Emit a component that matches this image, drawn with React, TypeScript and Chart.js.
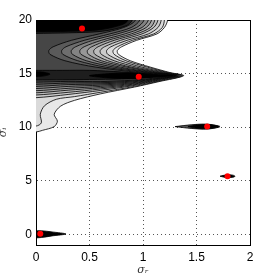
import React, { useEffect, useRef } from 'react';
import { Chart, registerables } from 'chart.js';

Chart.register(...registerables);

// Axis ticks
const xTicks = [0, 0.5, 1, 1.5, 2];
const yTicks = [0, 5, 10, 15, 20];

// Red markers (sigma_r, sigma_i)
const peakSigmaR = [0.43, 0.96, 1.6, 1.79, 0.04];
const peakSigmaI = [19.2, 14.7, 10.05, 5.42, 0.05];

// Contour levels (outer -> inner), each a closed outline of [sigma_r, sigma_i]
const level0 = [[-0.3,21.5],[1.23,21.5],[1.23,20],[1.2,19.3],[1.13,18.7],[0.94,18.1],[0.8,17.5],[0.76,17.15],[0.77,16.8],[0.88,16.2],[1.07,15.6],[1.25,15.1],[1.38,14.8],[1.15,14.25],[0.92,13.74],[0.6,13.1],[0.36,12.5],[0.23,11.96],[0.17,11.2],[0.2,10.56],[0.17,10.05],[0.06,9.7],[0,9.55],[-0.3,9.5],[-0.3,21.5]];
const level1 = [[-0.3,21.5],[1.2,21.5],[1.2,20],[1.18,19.3],[1.1,18.7],[0.9,18.1],[0.76,17.5],[0.72,17.15],[0.73,16.8],[0.84,16.2],[1.04,15.6],[1.23,15.1],[1.37,14.8],[1.15,14.3],[0.92,13.8],[0.6,13.25],[0.36,12.85],[0.19,12.6],[0.08,12.0],[0.04,11.2],[0.05,10.4],[0,10.1],[-0.3,10.05],[-0.3,21.5]];
const level2 = [[-0.3,21.5],[1.17,21.5],[1.17,20],[1.14,19.3],[1.05,18.7],[0.85,18.1],[0.7,17.5],[0.66,17.15],[0.67,16.8],[0.79,16.2],[0.99,15.6],[1.21,15.1],[1.36,14.8],[1.15,14.35],[0.9,13.86],[0.6,13.42],[0.3,13.05],[0,12.75],[-0.3,12.75],[-0.3,21.5]];
const level3 = [[-0.3,21.5],[1.14,21.5],[1.14,20],[1.1,19.3],[0.99,18.7],[0.79,18.1],[0.64,17.5],[0.6,17.15],[0.61,16.8],[0.73,16.2],[0.94,15.6],[1.18,15.1],[1.35,14.8],[1.15,14.4],[0.9,13.93],[0.6,13.56],[0.3,13.25],[0,13.0],[-0.3,13.0],[-0.3,21.5]];
const level4 = [[-0.3,21.5],[1.11,21.5],[1.11,20],[1.07,19.3],[0.94,18.7],[0.73,18.1],[0.58,17.5],[0.54,17.15],[0.55,16.8],[0.67,16.2],[0.89,15.6],[1.15,15.1],[1.34,14.8],[1.15,14.44],[0.9,14.0],[0.6,13.68],[0.3,13.45],[0,13.2],[-0.3,13.2],[-0.3,21.5]];
const level5 = [[-0.3,21.5],[1.08,21.5],[1.08,20],[1.03,19.3],[0.89,18.7],[0.67,18.1],[0.52,17.5],[0.48,17.15],[0.49,16.8],[0.61,16.2],[0.85,15.6],[1.12,15.1],[1.33,14.8],[1.15,14.48],[0.9,14.07],[0.6,13.8],[0.3,13.62],[0,13.4],[-0.3,13.4],[-0.3,21.5]];
const level6 = [[-0.3,21.5],[1.05,21.5],[1.05,20],[0.99,19.3],[0.83,18.7],[0.61,18.1],[0.45,17.5],[0.41,17.15],[0.42,16.8],[0.55,16.2],[0.79,15.6],[1.09,15.1],[1.32,14.8],[1.15,14.52],[0.9,14.14],[0.6,13.92],[0.3,13.8],[0,13.6],[-0.3,13.6],[-0.3,21.5]];
const level7 = [[-0.3,21.5],[1.01,21.5],[1.01,20],[0.94,19.3],[0.76,18.7],[0.53,18.1],[0.37,17.5],[0.33,17.15],[0.34,16.8],[0.47,16.2],[0.73,15.6],[1.06,15.1],[1.31,14.8],[1.15,14.56],[0.9,14.22],[0.6,14.03],[0.3,13.97],[0,13.8],[-0.3,13.8],[-0.3,21.5]];
const level8 = [[-0.3,21.5],[0.97,21.5],[0.97,20],[0.89,19.3],[0.69,18.7],[0.45,18.1],[0.28,17.5],[0.24,17.15],[0.25,16.8],[0.39,16.2],[0.65,15.6],[1.02,15.1],[1.3,14.8],[1.15,14.59],[0.9,14.3],[0.6,14.14],[0.3,14.12],[0,14.0],[-0.3,14.0],[-0.3,21.5]];
const level9 = [[-0.3,21.5],[0.93,21.5],[0.93,20],[0.82,19.3],[0.59,18.7],[0.33,18.1],[0.16,17.5],[0.12,17.15],[0.13,16.8],[0.27,16.2],[0.56,15.6],[0.96,15.1],[1.29,14.8],[1.15,14.62],[0.9,14.38],[0.6,14.25],[0.3,14.27],[0,14.2],[-0.3,14.2],[-0.3,21.5]];
// Inner islands
const topBandOuter = [[-0.3,21.5],[0.9,21.5],[0.9,20],[0.84,19.45],[0.62,18.95],[0.3,18.8],[0,18.75],[-0.3,18.75],[-0.3,21.5]];
const topBandInner = [[-0.3,21.5],[0.86,21.5],[0.86,20],[0.8,19.55],[0.6,19.1],[0.3,18.95],[0,18.9],[-0.3,18.9],[-0.3,21.5]];
const midLobeOuter = [[1.28,14.8],[1.1,14.93],[0.8,15.15],[0.5,15.3],[0.25,15.3],[0,15.3],[-0.3,15.3],[-0.3,14.4],[0,14.4],[0.25,14.42],[0.5,14.45],[0.8,14.5],[1.1,14.66],[1.28,14.8]];
const midLobeInner = [[1.27,14.8],[1.1,14.9],[0.9,15.05],[0.7,15.0],[0.5,14.8],[0.7,14.58],[0.9,14.53],[1.1,14.68],[1.27,14.8]];
const leftBlob = [[-0.3,15.15],[0.05,15.15],[0.13,14.95],[0.05,14.75],[-0.3,14.75],[-0.3,15.15]];
const blob10Outer = [[1.3,10.05],[1.45,10.22],[1.6,10.28],[1.72,10.05],[1.6,9.82],[1.45,9.88],[1.3,10.05]];
const blob10Inner = [[1.42,10.05],[1.5,10.2],[1.62,10.24],[1.71,10.05],[1.62,9.86],[1.5,9.9],[1.42,10.05]];
const blob5 = [[1.72,5.42],[1.78,5.55],[1.84,5.52],[1.86,5.42],[1.84,5.32],[1.78,5.29],[1.72,5.42]];
const blob0 = [[-0.1,0.33],[0.05,0.33],[0.15,0.22],[0.28,0.03],[0.15,-0.15],[0.05,-0.3],[-0.1,-0.3],[-0.1,0.33]];

const contours = [level0, level1, level2, level3, level4, level5, level6, level7, level8, level9,
  topBandOuter, topBandInner, midLobeOuter, midLobeInner, leftBlob, blob10Outer, blob10Inner, blob5, blob0];
const contourFills = ['#e8e8e8', '#dadada', '#cbcbcb', '#bcbcbc', '#aaaaaa', '#979797', '#838383', '#6e6e6e', '#5a5a5a', '#464646',
  '#1e1e1e', '#000000', '#1e1e1e', '#000000', '#000000', '#555555', '#000000', '#000000', '#000000'];

export default function App() {
  const ref = useRef<HTMLCanvasElement>(null);
  useEffect(() => {
    if (!ref.current) return;
    const tickFont = { family: 'Liberation Sans', size: 12 };
    const titleFont = { family: 'DejaVu Serif', size: 11, style: 'italic' as const };
    const datasets: any[] = contours.map((c, i) => ({
      data: c.map(([x, y]) => ({ x, y })),
      showLine: true,
      fill: 'shape',
      backgroundColor: contourFills[i],
      borderColor: '#000000',
      borderWidth: 0.8,
      pointRadius: 0,
      tension: 0.3,
      order: 100 - i,
      clip: 0,
    }));
    datasets.push({
      data: peakSigmaR.map((x, i) => ({ x, y: peakSigmaI[i] })),
      showLine: false,
      pointRadius: 3,
      pointBackgroundColor: '#ff0000',
      pointBorderWidth: 0,
      backgroundColor: '#ff0000',
      borderColor: '#ff0000',
      order: -10,
    });
    const chart = new Chart(ref.current, {
      type: 'scatter',
      data: { datasets },
      options: {
        responsive: false,
        animation: false,
        layout: { padding: { left: 0, right: 27, top: 20, bottom: 0 } },
        elements: { line: { capBezierPoints: false } },
        plugins: { legend: { display: false }, tooltip: { enabled: false } },
        scales: {
          x: {
            type: 'linear', position: 'bottom', min: 0, max: 2,
            afterBuildTicks: (s: any) => { s.ticks = xTicks.map((v) => ({ value: v })); },
            afterFit: (s: any) => { s.height = 32; },
            ticks: { font: tickFont, color: '#000', padding: 5, maxRotation: 0, autoSkip: false, callback: (v: any) => String(v) },
            grid: { color: '#555', lineWidth: 1, drawTicks: false },
            border: { display: true, color: '#000', width: 1, dash: [1, 3] },
            title: { display: true, text: 'σᵣ', font: titleFont, color: '#333', padding: { top: 0, bottom: 0 } },
          },
          y: {
            type: 'linear', position: 'left', min: -1, max: 20,
            afterBuildTicks: (s: any) => { s.ticks = yTicks.map((v) => ({ value: v })); },
            afterFit: (s: any) => { s.width = 36; },
            ticks: { font: tickFont, color: '#000', padding: 4, autoSkip: false, callback: (v: any) => String(v) },
            grid: { color: '#555', lineWidth: 1, drawTicks: false },
            border: { display: true, color: '#000', width: 1, dash: [1, 3] },
            title: { display: true, text: 'σᵢ', font: titleFont, color: '#333', padding: { top: -3, bottom: 0 } },
          },
          x2: {
            type: 'linear', position: 'top', min: 0, max: 2, display: true,
            afterFit: (s: any) => { s.height = 0; },
            ticks: { display: false },
            grid: { display: false },
            border: { display: true, color: '#000', width: 1 },
          },
          y2: {
            type: 'linear', position: 'right', min: -1, max: 20, display: true,
            afterFit: (s: any) => { s.width = 0; },
            ticks: { display: false },
            grid: { display: false },
            border: { display: true, color: '#000', width: 1 },
          },
        },
      } as any,
    });
    return () => chart.destroy();
  }, []);
  return (
    <div style={{ position: 'absolute', left: 0, top: 0, width: 277, height: 277, background: '#fff' }}>
      <canvas ref={ref} width={277} height={277} />
    </div>
  );
}
